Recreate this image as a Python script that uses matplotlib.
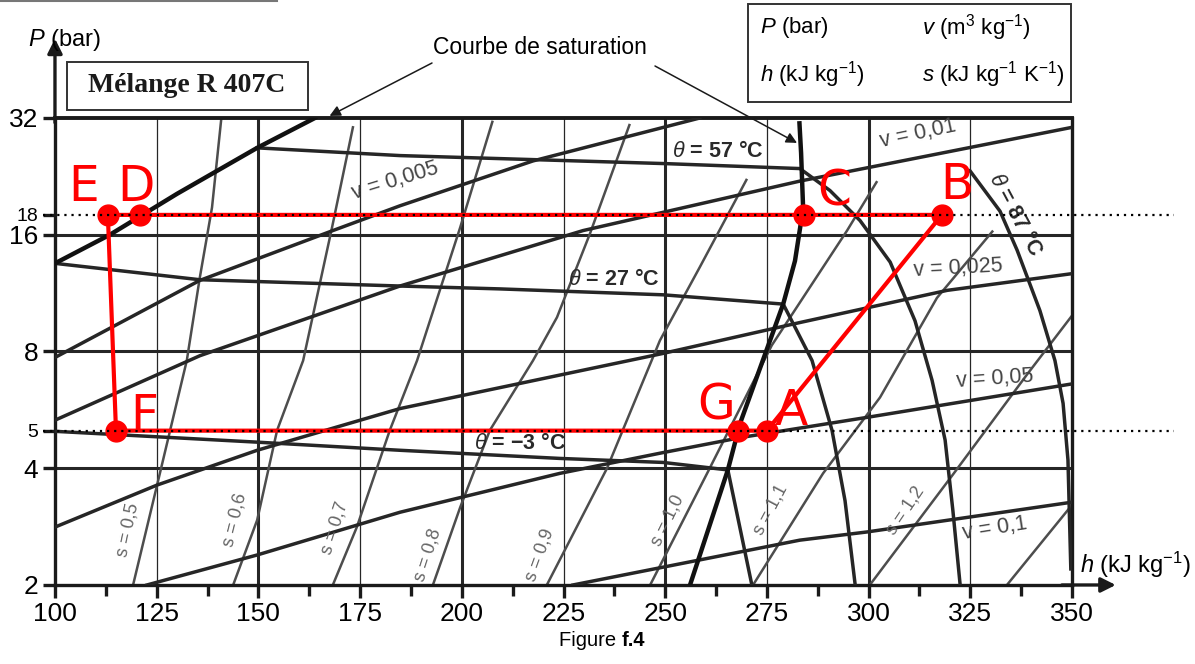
import numpy as np
import matplotlib.pyplot as plt
from matplotlib.patches import Rectangle
from matplotlib.lines import Line2D
from matplotlib.ticker import NullLocator

plt.rcParams['font.family'] = ['Liberation Sans', 'DejaVu Sans']
plt.rcParams['mathtext.fontset'] = 'custom'
plt.rcParams['mathtext.rm'] = 'Liberation Sans'
plt.rcParams['mathtext.it'] = 'Liberation Sans:italic'
plt.rcParams['mathtext.bf'] = 'Liberation Sans:bold'

# axes
h_ticks = [100, 125, 150, 175, 200, 225, 250, 275, 300, 325, 350]
p_ticks = [2, 4, 5, 8, 16, 18, 32]
h_thick = [150, 200, 250, 300]
h_thin = [125, 175, 225, 275, 325]
p_grid = [4, 8, 16]

# saturation curve
sat_liq_h = [100, 113.5, 130, 149.7, 163.9]
sat_liq_p = [13.5, 16, 20.4, 26.8, 32]
sat_vap_h = [256.1, 265.4, 268.4, 279.0, 281.9, 283.9, 283.4, 283.0]
sat_vap_p = [2, 3.96, 5.22, 10.6, 13.7, 18.7, 26.0, 31.0]

# isotherms
t57_h = [149.7, 184.8, 250.4, 283.1, 290.5, 297.9, 305.3, 311.4, 315.6, 318.8, 320.7, 322.5]
t57_p = [26.8, 25.6, 24.4, 23.7, 20.8, 17.4, 13.6, 9.6, 6.74, 4.73, 3.12, 2.0]
t27_h = [100, 135.6, 184.8, 209.4, 249.5, 279.0, 286.1, 291.0, 294.2, 296.7]
t27_p = [13.5, 12.25, 11.8, 11.6, 11.2, 10.6, 7.58, 5.01, 3.3, 2.0]
tm3_h = [100, 149.7, 184.8, 224.1, 249.5, 265.4, 271.3]
tm3_p = [4.98, 4.67, 4.45, 4.24, 4.14, 3.96, 2.0]
t87_h = [324.9, 332.3, 336.5, 342.1, 345.8, 347.8, 349.0, 349.7]
t87_p = [23.4, 18.4, 14.6, 10.2, 7.58, 5.88, 4.2, 2.2]

# isochores
v005_h = [100, 135.6, 168.3, 184.8, 217.5, 258.5]
v005_p = [7.72, 12.2, 16.4, 19.0, 24.8, 32]
v01_h = [100, 135.6, 184.8, 229.8, 283.1, 349.5]
v01_p = [5.32, 7.8, 11.8, 16.4, 22.0, 30.2]
v025_h = [100, 125.1, 149.7, 184.8, 249.5, 283.1, 319.3, 350]
v025_p = [2.82, 3.62, 4.45, 5.7, 7.91, 9.5, 11.5, 12.7]
v05_h = [122.6, 149.7, 184.8, 224.1, 249.5, 269.1, 299.6, 350]
v05_p = [2.0, 2.39, 3.08, 3.88, 4.39, 4.81, 5.41, 6.6]
v1_h = [227.3, 283.1, 299.6, 350]
v1_p = [2.0, 2.61, 2.74, 3.27]

# isentropes
s05_h = [119.2, 125.1, 132.4, 135.6, 138.6, 140.9]
s05_p = [2, 3.62, 7.58, 12.4, 18.8, 32]
s06_h = [143.8, 149.7, 154.6, 161.0, 168.1, 173.3]
s06_p = [2, 2.94, 5.01, 7.58, 16.7, 30.5]
s07_h = [168.3, 174.2, 182.3, 189.0, 199.6, 207.6]
s07_p = [2, 2.82, 5.01, 7.58, 16.7, 31.5]
s08_h = [192.9, 199.6, 206.9, 217.5, 223.4, 231.5, 241.3]
s08_p = [2, 3.17, 5.01, 7.58, 9.8, 16.1, 30.9]
s09_h = [220.9, 235.7, 248.7, 258.5, 270.1]
s09_p = [2, 4.0, 8.54, 13.2, 22.3]
s10_h = [246.3, 260.3, 276.2, 294.7, 302.1]
s10_p = [2, 3.88, 8.3, 16.4, 22.0]
s11_h = [271.6, 288.8, 302.8, 316.8, 330.6]
s11_p = [2, 3.88, 6.09, 11.0, 16.4]
s12_h = [300.3, 320.7, 338.9, 350]
s12_p = [2, 3.85, 6.97, 9.9]
s13_h = [334.0, 349.5]
s13_p = [2, 3.17]

# cycle E D C B A G F
pt_names = ['E', 'D', 'C', 'B', 'A', 'G', 'F']
pt_h = [113, 121, 284, 318, 275, 268, 115]
pt_p = [18, 18, 18, 18, 5, 5, 5]

fig = plt.figure(figsize=(11.95, 6.64), dpi=100)
ax = fig.add_axes([0.0460, 0.1190, 0.8511, 0.7033])
ax.set_yscale('log')
ax.set_xlim(100, 350)
ax.set_ylim(2, 32)

dark = '#262626'
grey = '#4d4d4d'

for x in h_thick:
    ax.axvline(x, color=dark, lw=2.2, zorder=1)
for x in h_thin:
    ax.axvline(x, color=dark, lw=0.9, zorder=1)
for y in p_grid:
    ax.axhline(y, color=dark, lw=2.2, zorder=1)

for hh, pp in [(s05_h, s05_p), (s06_h, s06_p), (s07_h, s07_p), (s08_h, s08_p),
               (s09_h, s09_p), (s10_h, s10_p), (s11_h, s11_p), (s12_h, s12_p),
               (s13_h, s13_p)]:
    ax.plot(hh, pp, color=grey, lw=1.8, zorder=2, solid_capstyle='butt')

for hh, pp in [(v005_h, v005_p), (v01_h, v01_p), (v025_h, v025_p),
               (v05_h, v05_p), (v1_h, v1_p),
               (t57_h, t57_p), (t27_h, t27_p), (tm3_h, tm3_p), (t87_h, t87_p)]:
    ax.plot(hh, pp, color=dark, lw=2.5, zorder=3)

ax.plot(sat_liq_h, sat_liq_p, color='#111111', lw=3.2, zorder=4)
ax.plot(sat_vap_h, sat_vap_p, color='#111111', lw=3.2, zorder=4)

# labels on the isolines
lab = dict(color='#444444', fontsize=15.5, ha='center', va='center', zorder=4)
ax.text(183.6, 22.0, 'v = 0,005', rotation=17, **lab)
ax.text(312.1, 29.1, 'v = 0,01', rotation=12, **lab)
ax.text(322.0, 13.1, 'v = 0,025', rotation=3, **lab)
ax.text(331.1, 6.82, 'v = 0,05', rotation=4, **lab)
ax.text(331.1, 2.80, 'v = 0,1', rotation=9, **lab)
tl = dict(color='#2a2a2a', fontsize=15.5, fontweight='bold', ha='center', va='center', zorder=4)
ax.text(263.0, 26.3, r'$\theta$ = 57 °C', **tl)
ax.text(237.4, 12.3, r'$\theta$ = 27 °C', **tl)
ax.text(214.3, 4.62, r'$\theta$ = −3 °C', **tl)
ax.text(336.0, 18.0, r'$\theta$ = 87 °C', rotation=-62, **tl)
sl = dict(color='#666666', fontsize=13, ha='center', va='center', zorder=4)
ax.text(117.9, 2.77, 's = 0,5', rotation=78, **sl)
ax.text(144.2, 2.94, 's = 0,6', rotation=76, **sl)
ax.text(168.8, 2.80, 's = 0,7', rotation=72, **sl)
ax.text(191.7, 2.39, 's = 0,8', rotation=72, **sl)
ax.text(219.2, 2.39, 's = 0,9', rotation=70, **sl)
ax.text(250.7, 2.94, 's = 1,0', rotation=64, **sl)
ax.text(275.8, 3.12, 's = 1,1', rotation=62, **sl)
ax.text(309.0, 3.12, 's = 1,2', rotation=56, **sl)

# cycle
cyc_h = pt_h + [pt_h[0]]
cyc_p = pt_p + [pt_p[0]]
ax.plot(cyc_h, cyc_p, color='#ff0000', lw=3, zorder=7)
ax.plot(pt_h, pt_p, 'o', color='#ff0000', ms=15, zorder=8)
offs = {'E': (-24, 28), 'D': (-4, 28), 'C': (31, 23), 'B': (15, 30),
        'A': (24, 20), 'G': (-22, 25), 'F': (28, 15)}
for n, x, y in zip(pt_names, pt_h, pt_p):
    ax.annotate(n, (x, y), xytext=offs[n], textcoords='offset pixels',
                color='#ff0000', fontsize=35, ha='center', va='center',
                family='DejaVu Sans', zorder=9)

for y in [18, 5]:
    ax.plot([97, 375], [y, y], color='k', lw=1.6, ls=(0, (1, 2.2)),
            clip_on=False, zorder=10)

# axes styling
for sp in ax.spines.values():
    sp.set_linewidth(2.4)
    sp.set_color('#1a1a1a')
ax.spines['top'].set_linewidth(2.8)

ax.set_xticks(h_ticks)
ax.set_xticks(np.arange(112.5, 350, 25), minor=True)
ax.set_yticks(p_ticks)
ax.yaxis.set_minor_locator(NullLocator())
ax.set_yticklabels([str(p) for p in p_ticks])
ax.tick_params(axis='both', which='major', direction='out', length=9, width=2.4,
               color='#1a1a1a', labelsize=19, pad=3)
ax.tick_params(axis='x', which='minor', direction='out', length=8, width=2.4, color='#1a1a1a')
for t in ax.get_yticklabels():
    if t.get_text() in ('18', '5'):
        t.set_fontsize(14)

# axis arrows
ax.annotate('', xy=(0, 1.17), xytext=(0, 0.99), xycoords='axes fraction',
            arrowprops=dict(arrowstyle='-|>', lw=2.4, color='#1a1a1a', mutation_scale=22,
                            shrinkA=0, shrinkB=0))
ax.annotate('', xy=(1.043, 0), xytext=(0.99, 0), xycoords='axes fraction',
            arrowprops=dict(arrowstyle='-|>', lw=2.4, color='#1a1a1a', mutation_scale=22,
                            shrinkA=0, shrinkB=0))

fig.text(0.054, 0.94, '$P$ (bar)', fontsize=17, ha='center', va='center')
fig.text(0.904, 0.149, '$h$ (kJ kg$^{-1}$)', fontsize=17, ha='left', va='center')

# saturation caption with arrows
fig.text(540 / 1195, 1 - 48 / 664, 'Courbe de saturation', fontsize=16.5, ha='center', va='center')
arw = dict(arrowstyle='-|>', lw=1.1, color='#1a1a1a', mutation_scale=16, shrinkA=0, shrinkB=0)
ax.annotate('', xy=(167.5, 32.4), xytext=(432, 601), textcoords='figure pixels',
            arrowprops=arw, annotation_clip=False)
ax.annotate('', xy=(282.4, 27.6), xytext=(655, 598), textcoords='figure pixels',
            arrowprops=arw, annotation_clip=False)

# boxes
fig.add_artist(Rectangle((67 / 1195, 1 - 110 / 664), 241 / 1195, 48 / 664,
                         transform=fig.transFigure, fill=False, ec='#333333', lw=1.4))
fig.text(187 / 1195, 1 - 86 / 664, 'Mélange R 407C', family='Liberation Serif',
         fontweight='bold', fontsize=20, ha='center', va='center', color='#1a1a1a')
fig.add_artist(Rectangle((748 / 1195, 1 - 102 / 664), 323 / 1195, 98 / 664,
                         transform=fig.transFigure, fill=False, ec='#333333', lw=1.4))
fig.text(760 / 1195, 1 - 28 / 664, '$P$ (bar)', fontsize=16, ha='left', va='center')
fig.text(922 / 1195, 1 - 28 / 664, '$v$ (m$^3$ kg$^{-1}$)', fontsize=16, ha='left', va='center')
fig.text(760 / 1195, 1 - 75 / 664, '$h$ (kJ kg$^{-1}$)', fontsize=16, ha='left', va='center')
fig.text(922 / 1195, 1 - 75 / 664, '$s$ (kJ kg$^{-1}$ K$^{-1}$)', fontsize=16, ha='left', va='center')
fig.add_artist(Line2D([0, 277 / 1195], [0.9985, 0.9985], transform=fig.transFigure,
                      color='#777777', lw=1.5))

fig.text(622 / 1195, 1 - 640 / 664, 'Figure ', fontsize=14.5, ha='right', va='center')
fig.text(622 / 1195, 1 - 640 / 664, 'f.4', fontsize=14.5, fontweight='bold', ha='left', va='center')

fig.savefig('out.png', dpi=100)
